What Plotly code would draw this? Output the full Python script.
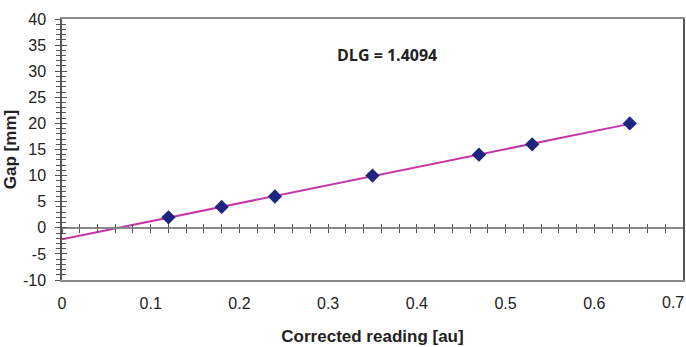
import numpy as np
import plotly.graph_objects as go

reading = [0.12, 0.18, 0.24, 0.35, 0.47, 0.53, 0.64]
gap = [2, 4, 6, 10, 14, 16, 20]
x_ticks = [0, 0.1, 0.2, 0.3, 0.4, 0.5, 0.6, 0.7]
x_tick_labels = ["0", "0.1", "0.2", "0.3", "0.4", "0.5", "0.6", "0.7"]
y_ticks = [-10, -5, 0, 5, 10, 15, 20, 25, 30, 35, 40]
y_tick_labels = ["-10", "-5", "0", "5", "10", "15", "20", "25", "30", "35", "40"]
annotation_text = "DLG = 1.4094"

slope, intercept = np.polyfit(reading, gap, 1)
fit_x = [0, max(reading)]
fit_y = [intercept + slope * v for v in fit_x]

AX = "#8a8a8a"
FONT = "Liberation Sans, Arial, sans-serif"

fig = go.Figure()
fig.add_trace(go.Scatter(x=fit_x, y=fit_y, mode="lines",
                         line=dict(color="#C537A8", width=2), showlegend=False))
fig.add_trace(go.Scatter(x=reading, y=gap, mode="markers",
                         marker=dict(symbol="diamond", size=11, color="#1C2680"),
                         showlegend=False))
fig.add_trace(go.Scatter(x=[None], y=[None], xaxis="x2", yaxis="y", showlegend=False))
fig.add_trace(go.Scatter(x=[None], y=[None], xaxis="x3", yaxis="y", showlegend=False))
fig.add_trace(go.Scatter(x=[None], y=[None], xaxis="x", yaxis="y2", showlegend=False))

# last x tick label is drawn as an annotation so it stays fully inside the page
shown_x_labels = x_tick_labels[:-1] + [""]

fig.update_layout(
    width=686, height=347,
    margin=dict(l=62, r=3, t=19, b=67),
    paper_bgcolor="white", plot_bgcolor="white",
    font=dict(family=FONT, size=16, color="#222"),
    xaxis=dict(range=[0, 0.7], tickvals=x_ticks, ticktext=shown_x_labels,
               automargin=False,
               showgrid=False, zeroline=False, showline=True, linecolor=AX,
               linewidth=1.5, mirror=True, ticks="", ticklabelstandoff=8,
               title=dict(text="<b>Corrected reading [au]</b>", standoff=19,
                          font=dict(size=17))),
    xaxis2=dict(range=[0, 0.7], overlaying="x", anchor="free", position=0.2,
                automargin=False,
                dtick=0.02, tick0=0, ticks="outside", ticklen=4, tickcolor="#555",
                showticklabels=False, showgrid=False, zeroline=False,
                showline=True, linecolor=AX, linewidth=2),
    xaxis3=dict(range=[0, 0.7], overlaying="x", anchor="free", position=0.2,
                automargin=False,
                dtick=0.02, tick0=0, ticks="inside", ticklen=4, tickcolor="#555",
                showticklabels=False, showgrid=False, zeroline=False, showline=False),
    yaxis=dict(range=[-10, 40], tickvals=y_ticks, ticktext=y_tick_labels,
               automargin=False, showgrid=False, zeroline=False,
               showline=True, linecolor="#555", linewidth=1.5, mirror=True,
               ticks="outside", ticklen=5, tickcolor="#555", ticklabelstandoff=6,
               minor=dict(dtick=1, ticks="outside", ticklen=4, tickcolor="#555"),
               title=dict(text="<b>Gap [mm]</b>", standoff=2, font=dict(size=17))),
    yaxis2=dict(range=[-10, 40], overlaying="y", anchor="x", side="left",
                automargin=False,
                dtick=5, ticks="inside", ticklen=5, tickcolor="#555",
                minor=dict(dtick=1, ticks="inside", ticklen=4, tickcolor="#555"),
                showticklabels=False, showgrid=False, zeroline=False, showline=False),
    annotations=[
        dict(x=0.366, y=33.2, xref="x", yref="y", text="<b>" + annotation_text + "</b>",
             showarrow=False, font=dict(family="Open Sans, sans-serif", size=16, color="#222")),
        dict(x=x_ticks[-1], y=0, xref="x", yref="paper", text=x_tick_labels[-1],
             xanchor="right", yanchor="top", xshift=3, yshift=-12, showarrow=False,
             font=dict(family=FONT, size=16, color="#222")),
    ],
)

fig.write_html("out.html",
               config={"displayModeBar": False},
               post_script=("document.body.style.margin='0';"
                            "document.body.style.overflow='hidden';"
                            "document.documentElement.style.overflow='hidden';"))
